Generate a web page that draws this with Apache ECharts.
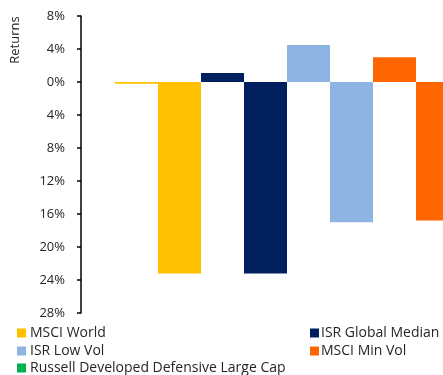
<!DOCTYPE html>
<html>
<head>
<meta charset="utf-8">
<script src="https://cdn.jsdelivr.net/npm/echarts@6/dist/echarts.min.js"></script>
<style>
  html, body { margin: 0; padding: 0; background: #fff; }
  #chart { width: 443px; height: 375px; }
</style>
</head>
<body>
<div id="chart"></div>
<script>
// Fund / index names, one colour each
const funds = ['MSCI World', 'ISR Global Median', 'ISR Low Vol', 'MSCI Min Vol', 'Russell Developed Defensive Large Cap'];
const colors = ['#FFC000', '#002060', '#8EB4E3', '#FF6600', '#00B050'];
// Returns (%) in the two periods shown for each fund, side by side
const upside = [-0.2, 1.1, 4.5, 3.0, null];
const downside = [-23.2, -23.2, -17.0, -16.8, null];
// Value axis range and step (%)
const yMin = -28, yMax = 8, yStep = 4;

// Two slots per fund: [upside, downside]
const slots = [];
funds.forEach(f => { slots.push(f + ' up'); slots.push(f + ' down'); });

const series = funds.map((name, i) => {
  const data = slots.map(() => null);
  data[2 * i] = upside[i];
  data[2 * i + 1] = downside[i];
  return {
    name: name,
    type: 'bar',
    stack: 'all',
    barCategoryGap: '0%',
    itemStyle: { color: colors[i] },
    data: data
  };
});

const font = 'Open Sans';
// Legend laid out as two columns, one entry per legend block
const legendSlots = [
  { left: 17, top: 326 }, { left: 310, top: 326 },
  { left: 17, top: 344 }, { left: 310, top: 344 },
  { left: 17, top: 361 }
];
const legends = funds.map((name, i) => ({
  left: legendSlots[i].left,
  top: legendSlots[i].top,
  itemWidth: 9,
  itemHeight: 9,
  itemGap: 0,
  icon: 'rect',
  padding: 0,
  textStyle: { color: '#262626', fontSize: 14, fontFamily: font, padding: [0, 0, 0, i % 2 ? -3 : -1] },
  data: [name]
}));

const chart = echarts.init(document.getElementById('chart'), null, { renderer: 'canvas' });
chart.setOption({
  animation: false,
  textStyle: { fontFamily: font },
  // plot area runs past the right edge of the canvas
  grid: { left: 115, top: 16, height: 297, width: 430, containLabel: false, outerBoundsMode: 'none' },
  xAxis: {
    type: 'category',
    data: slots,
    show: false
  },
  yAxis: {
    type: 'value',
    min: yMin,
    max: yMax,
    interval: yStep,
    offset: 34,
    axisLine: { show: true, lineStyle: { color: '#000', width: 1.5 } },
    axisTick: { show: true, length: 4, lineStyle: { color: '#000', width: 1.5 } },
    splitLine: { show: false },
    axisLabel: {
      margin: 16,
      color: '#262626',
      fontSize: 13,
      fontFamily: font,
      formatter: v => Math.abs(v) + '%'
    }
  },
  graphic: [{
    type: 'text',
    x: 15,
    y: 40,
    rotation: Math.PI / 2,
    style: {
      text: 'Returns',
      fill: '#262626',
      font: '13px "' + font + '"',
      align: 'center',
      verticalAlign: 'middle'
    }
  }],
  legend: legends,
  series: series
});
</script>
</body>
</html>
